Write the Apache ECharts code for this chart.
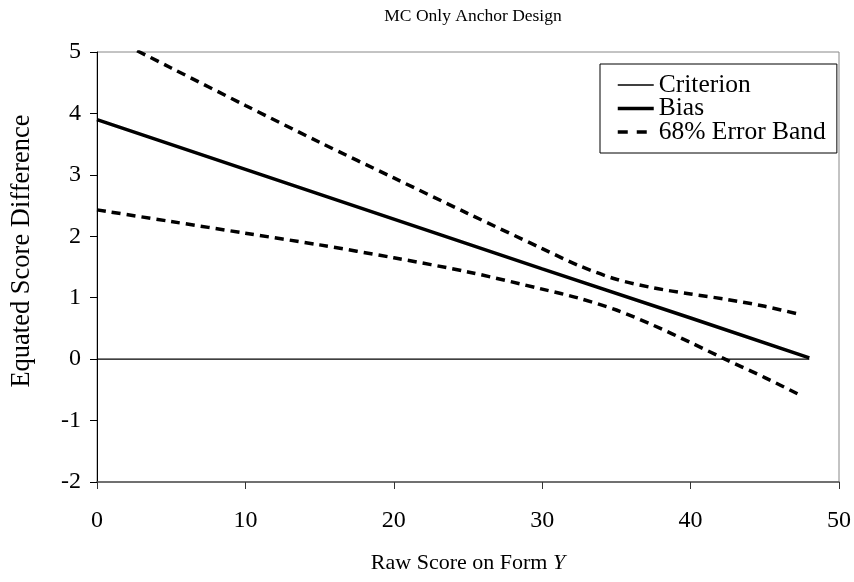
<!DOCTYPE html>
<html>
<head>
<meta charset="utf-8">
<script src="https://cdn.jsdelivr.net/npm/echarts@6/dist/echarts.min.js"></script>
<style>
html,body{margin:0;padding:0;background:#fff;}
#chart{width:854px;height:582px;}
</style>
</head>
<body>
<div id="chart"></div>
<script>
var xTicks = [0, 10, 20, 30, 40, 50];
var yTicks = [-2, -1, 0, 1, 2, 3, 4, 5];

var criterionX = [0, 48];
var criterionY = [0, 0];

var biasX = [0, 10, 20, 30, 40, 48];
var biasY = [3.90, 3.09, 2.28, 1.47, 0.67, 0.02];

var bandX = [0, 5, 10, 15, 20, 25, 30, 32.5, 35, 37.5, 40, 42.5, 45, 47.5];
var upperY = [5.35, 4.74, 4.13, 3.53, 2.95, 2.37, 1.80, 1.52, 1.30, 1.16, 1.06, 0.97, 0.86, 0.72];
var lowerY = [2.43, 2.24, 2.05, 1.86, 1.65, 1.42, 1.14, 0.99, 0.80, 0.55, 0.27, -0.02, -0.30, -0.60];

function pairs(xs, ys){ return xs.map(function(x,i){ return [x, ys[i]]; }); }

var FONT = '"Liberation Serif", "Times New Roman", serif';
var chart = echarts.init(document.getElementById('chart'));
chart.setOption({
  animation: false,
  backgroundColor: '#fff',
  textStyle: {fontFamily: FONT, color: '#000'},
  title: {
    text: 'MC Only Anchor Design',
    left: 468, top: 2, textAlign: 'center',
    textStyle: {fontFamily: FONT, fontSize: 17.5, fontWeight: 'normal', color: '#000'}
  },
  grid: {left: 97, right: 15, top: 52, bottom: 100, containLabel: false, outerBoundsMode: 'none',
         show: true, borderColor: '#888', borderWidth: 1, backgroundColor: 'transparent'},
  legend: {
    orient: 'vertical',
    left: 600, top: 64,
    padding: [8, 11, 8, 16],
    borderColor: '#000', borderWidth: 1,
    backgroundColor: '#fff',
    itemWidth: 36, itemHeight: 14, itemGap: -2.5,
    itemStyle: {opacity: 0},
    lineStyle: {width: 'inherit'},
    textStyle: {fontFamily: FONT, fontSize: 25.5, color: '#000'},
    data: [
      {name: 'Criterion'},
      {name: 'Bias'},
      {name: '68% Error Band', lineStyle: {type: [10, 9]}}
    ]
  },
  xAxis: {
    type: 'value', min: 0, max: 50, interval: 10,
    name: 'Raw Score on Form {i|Y}', nameLocation: 'middle', nameGap: 70,
    nameTextStyle: {fontFamily: FONT, fontSize: 22, color: '#000', rich: {i: {fontStyle: 'italic', fontFamily: FONT, fontSize: 22, color: '#000'}}},
    axisLine: {show: true, onZero: false, lineStyle: {color: '#555', width: 1.5}},
    axisTick: {show: true, inside: false, length: 7, lineStyle: {color: '#333'}},
    axisLabel: {fontFamily: FONT, fontSize: 24, color: '#000', margin: 27},
    splitLine: {show: false}
  },
  yAxis: {
    type: 'value', min: -2, max: 5, interval: 1,
    name: 'Equated Score Difference', nameLocation: 'middle', nameGap: 61,
    nameTextStyle: {fontFamily: FONT, fontSize: 26.5, color: '#000', padding: [0, 0, 0, 32]},
    axisLine: {show: true, onZero: false, lineStyle: {color: '#000', width: 1}},
    axisTick: {show: true, inside: false, length: 7, lineStyle: {color: '#000'}},
    axisLabel: {fontFamily: FONT, fontSize: 24, color: '#000', margin: 16},
    splitLine: {show: false}
  },
  series: [
    {name: 'Criterion', type: 'line', data: pairs(criterionX, criterionY), showSymbol: false, symbol: 'none',
     lineStyle: {color: '#000', width: 1.3}, itemStyle: {color: '#000'}, clip: true},
    {name: 'Bias', type: 'line', data: pairs(biasX, biasY), showSymbol: false, symbol: 'none',
     lineStyle: {color: '#000', width: 3.5}, itemStyle: {color: '#000'}, clip: true},
    {name: '68% Error Band', type: 'line', data: pairs(bandX, upperY), showSymbol: false, symbol: 'none', smooth: 0.3,
     lineStyle: {color: '#000', width: 3.5, type: [9, 6]}, itemStyle: {color: '#000'}, clip: true},
    {name: '68% Error Band', type: 'line', data: pairs(bandX, lowerY), showSymbol: false, symbol: 'none', smooth: 0.3,
     lineStyle: {color: '#000', width: 3.5, type: [9, 6]}, itemStyle: {color: '#000'}, clip: true}
  ]
});
</script>
</body>
</html>
